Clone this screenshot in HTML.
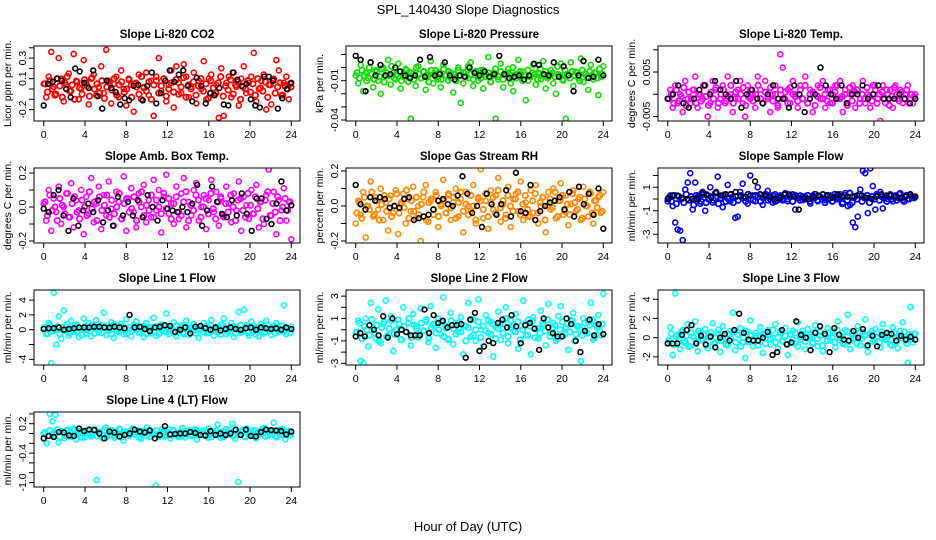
<!DOCTYPE html>
<html><head><meta charset="utf-8"><style>
body{margin:0;background:#fff}
svg{display:block;font-family:"Liberation Sans",sans-serif}
</style></head><body>
<svg id="chart" width="936" height="540" viewBox="0 0 936 540">
<rect width="936" height="540" fill="#fff"/>
<text x="468" y="14" text-anchor="middle" font-size="13">SPL_140430  Slope Diagnostics</text>
<text x="468" y="531" text-anchor="middle" font-size="13">Hour of Day (UTC)</text>
</svg>
<script>
const hourTicks=[0,4,8,12,16,20,24];
const co2Vals=[0.05,-0.08,0.12,0.36,0.02,-0.05,0.30,0.1,-0.12,0.04,0.15,-0.02,0.34,0.08,-0.1,0.0,0.28,0.06,-0.15,0.1,0.14,-0.06,0.02,0.22,-0.04,0.38,0.08,-0.14,0.05,0.12,-0.08,0.18,0.0,-0.16,0.1,0.04,-0.22,0.06,0.14,-0.1,0.02,0.16,-0.06,0.08,-0.26,0.12,0.3,-0.02,0.1,-0.12,0.04,0.18,-0.18,0.22,0.06,-0.04,0.24,0.12,-0.08,0.02,0.16,-0.14,0.08,0.0,0.27,-0.1,0.1,0.14,-0.06,0.04,-0.28,0.2,-0.26,0.06,0.12,-0.08,0.16,0.02,-0.16,0.1,0.22,-0.04,0.06,0.12,0.35,-0.12,0.0,0.08,0.14,-0.2,0.04,-0.15,0.1,0.28,0.18,-0.06,0.06,0.12,-0.1,0.02];
const co2Core=[0.05,-0.03,0.08,0.0,-0.06,0.1,0.03,-0.08,0.06,0.12,-0.02,0.04,-0.1,0.07,0.01,-0.05,0.09,0.03,-0.07,0.11,0.0,0.05,-0.04,0.08,-0.09,0.02,0.06,-0.01,0.1,-0.06,0.04,0.07,-0.03,0.0,0.09,-0.08,0.05,0.02,-0.05,0.12,0.01,-0.02,0.07,-0.1,0.04,0.08,-0.04,0.03,0.1,-0.07,0.0,0.06,-0.03,0.09,-0.05,0.02,0.11,-0.08,0.04,0.0,0.07,-0.06,0.03,0.1,-0.02,0.05,-0.09,0.08,0.01,-0.04,0.06,0.12,-0.07,0.03,-0.01,0.09,-0.05,0.04,0.07,-0.1,0.02,0.0,0.08,-0.03,0.05,-0.06,0.1,0.01,-0.02,0.07,-0.08,0.04,0.09,-0.04,0.02,0.06,-0.06,0.03,0.0,0.05];
const co2Black=[-0.16,0.05,0.07,0.1,0.08,0.0,-0.08,0.2,0.17,0.06,0.01,0.18,-0.07,-0.19,0.08,0.01,-0.03,-0.15,-0.09,-0.11,0.03,0.04,-0.11,0.03,0.16,-0.14,-0.04,0.08,0.18,0.07,0.14,0.18,0.03,-0.12,0.11,0.03,-0.14,-0.04,-0.06,0.01,-0.15,-0.16,0.16,0.09,0.03,0.05,-0.1,-0.16,-0.18,0.12,0.12,0.08,-0.19,-0.09,0.0,0.06];
const presVals=[-0.006,-0.012,0.002,-0.018,-0.004,-0.008,0.004,-0.015,-0.002,-0.01,-0.02,0.0,-0.006,0.006,-0.013,-0.004,-0.009,0.003,-0.016,-0.007,-0.001,-0.011,-0.039,-0.005,-0.014,0.001,-0.008,-0.003,-0.017,-0.006,0.005,-0.012,-0.002,-0.009,-0.015,0.002,-0.006,-0.01,-0.004,-0.019,-0.007,0.0,-0.027,-0.012,-0.003,-0.008,0.004,-0.014,-0.005,-0.01,-0.002,-0.016,-0.007,0.008,-0.011,-0.004,-0.039,-0.009,0.003,-0.015,-0.006,-0.001,-0.012,-0.018,-0.005,0.006,-0.008,-0.003,-0.025,-0.01,-0.006,0.002,-0.013,-0.004,-0.009,0.005,-0.016,-0.007,-0.002,-0.012,-0.02,-0.005,0.003,-0.01,-0.039,-0.006,0.004,-0.014,-0.003,-0.008,0.007,-0.011,-0.005,-0.017,0.002,-0.009,-0.004,-0.021,-0.007,0.001];
const presCore=[-0.004,-0.008,-0.002,-0.006,-0.01,0.0,-0.005,-0.009,-0.003,-0.007,-0.001,-0.011,-0.004,-0.006,0.001,-0.008,-0.005,-0.003,-0.01,-0.006,-0.002,-0.007,-0.004,-0.009,0.0,-0.005,-0.008,-0.003,-0.006,-0.011,-0.002,-0.005,-0.007,-0.004,-0.009,-0.001,-0.006,-0.003,-0.008,-0.005,-0.01,-0.002,-0.006,-0.004,-0.007,0.001,-0.005,-0.009,-0.003,-0.006,-0.008,-0.002,-0.005,-0.004,-0.011,-0.006,-0.001,-0.007,-0.003,-0.009,-0.005,-0.004,-0.006,0.0,-0.008,-0.005,-0.003,-0.01,-0.006,-0.002,-0.007,-0.004,-0.005,-0.009,-0.001,-0.006,-0.003,-0.008,-0.005,-0.004,-0.007,0.001,-0.006,-0.009,-0.002,-0.005,-0.008,-0.003,-0.006,-0.004,-0.01,-0.002,-0.005,-0.007,-0.003,-0.006,-0.004,-0.008,-0.001,-0.005];
const presBlack=[0.009,0.006,-0.018,0.004,-0.006,0.002,-0.006,-0.005,0.0,-0.003,-0.006,-0.008,-0.006,0.006,-0.007,0.008,-0.006,-0.005,0.004,-0.006,-0.009,-0.006,-0.007,0.0,-0.004,-0.006,-0.003,-0.007,-0.005,0.009,-0.005,-0.008,-0.007,-0.006,-0.009,-0.006,0.003,0.002,-0.005,-0.006,0.004,-0.007,0.001,-0.006,-0.018,-0.006,0.005,-0.008,-0.007,0.006,-0.006];
const tempVals=[-0.001,0.001,-0.003,0.002,-0.002,0.0,-0.004,0.003,-0.001,-0.002,0.001,0.004,-0.003,0.0,-0.001,0.002,-0.005,-0.002,0.003,0.001,-0.003,-0.001,0.002,-0.002,0.004,0.0,-0.004,-0.001,0.001,0.003,-0.002,-0.005,0.002,-0.001,0.0,-0.003,0.004,0.001,-0.002,0.003,-0.001,-0.004,0.0,0.002,-0.003,0.009,0.006,-0.001,0.001,-0.002,0.003,0.0,-0.003,0.002,-0.001,0.004,-0.002,0.001,-0.004,0.0,0.002,-0.001,0.003,-0.003,0.001,-0.002,0.0,0.002,-0.001,0.003,-0.004,0.001,-0.002,0.0,0.002,-0.003,0.001,-0.001,0.003,-0.002,0.0,-0.003,0.002,0.001,-0.001,-0.006,0.002,-0.002,0.0,0.001,-0.003,0.002,-0.001,0.001,-0.002,0.0,0.002,-0.001,-0.002,0.0];
const tempCore=[-0.001,0.0,-0.002,0.001,-0.0015,-0.0005,0.0015,-0.0025,0.0005,-0.001,0.001,-0.002,0.0,-0.0015,0.002,-0.0005,-0.0025,0.0005,-0.001,0.0015,-0.002,0.0,0.001,-0.0015,-0.0005,0.002,-0.002,0.0005,-0.001,0.0,0.0015,-0.0025,-0.0005,0.001,-0.0015,0.0,0.002,-0.001,-0.002,0.0005,-0.0005,0.0015,-0.0015,0.0,-0.0025,0.001,-0.001,0.0005,-0.002,0.0015,0.0,-0.0005,-0.0015,0.001,-0.001,0.002,-0.002,0.0,0.0005,-0.0025,-0.0005,0.0015,-0.001,0.0,-0.0015,0.001,-0.002,0.0005,0.002,-0.001,-0.0005,0.0,-0.0025,0.0015,-0.0015,0.0005,0.001,-0.002,0.0,-0.001,0.0015,-0.0005,-0.0015,0.002,-0.002,0.0,0.0005,-0.001,0.001,-0.0025,-0.0005,0.0015,0.0,-0.0015,0.0005,-0.001,0.001,-0.002,0.0,-0.0005];
const tempBlack=[-0.001,0.0,0.002,-0.002,-0.003,-0.001,0.001,0.002,0.0,0.003,0.001,0.0,-0.001,0.003,-0.003,0.0,0.001,-0.001,-0.002,0.0,0.002,-0.001,-0.001,-0.003,0.002,0.0,-0.004,-0.001,0.0,0.006,0.002,0.0,-0.001,0.002,-0.002,0.0,0.0,0.002,-0.001,0.0,0.002,-0.001,-0.001,-0.001,0.0,-0.001,-0.002,-0.001];
const boxVals=[0.02,-0.08,0.1,-0.14,0.05,-0.03,0.12,-0.1,0.0,0.08,-0.06,0.14,-0.12,0.04,-0.02,0.1,-0.16,0.06,-0.04,0.17,-0.09,0.02,0.12,-0.13,0.07,-0.05,0.15,-0.01,-0.11,0.09,0.03,-0.07,0.18,-0.14,0.05,0.11,-0.03,-0.12,0.08,0.0,0.13,-0.09,0.04,-0.06,0.16,-0.02,0.1,-0.15,0.06,0.19,-0.04,0.02,-0.1,0.12,-0.07,0.08,0.17,-0.12,0.03,-0.05,0.1,0.14,-0.08,0.0,0.07,-0.13,0.04,0.16,-0.03,0.09,-0.11,0.05,-0.06,0.12,0.02,-0.09,0.08,-0.02,0.15,-0.14,0.06,0.01,-0.07,0.1,-0.04,0.13,-0.12,0.03,-0.1,0.07,0.22,-0.05,0.09,-0.16,0.04,-0.02,0.11,-0.08,0.03,-0.19];
const boxCore=[0.03,-0.05,0.07,-0.02,0.0,-0.08,0.05,0.01,-0.04,0.08,-0.06,0.02,0.06,-0.03,-0.07,0.04,0.0,-0.05,0.09,-0.01,0.03,-0.08,0.06,-0.02,0.01,0.07,-0.06,0.04,-0.04,0.0,0.08,-0.07,0.02,0.05,-0.03,-0.01,0.06,-0.08,0.03,0.09,-0.05,0.01,-0.02,0.07,-0.06,0.04,0.0,-0.04,0.08,-0.01,0.05,-0.07,0.02,0.06,-0.03,-0.05,0.03,0.09,-0.08,0.01,-0.02,0.07,0.04,-0.06,0.0,0.05,-0.04,0.08,-0.01,-0.07,0.03,0.06,-0.05,0.02,-0.03,0.07,0.0,-0.08,0.04,0.05,-0.02,-0.06,0.08,0.01,-0.04,0.06,-0.01,0.03,-0.07,0.04,0.09,-0.05,0.02,-0.03,0.06,-0.08,0.0,0.05,-0.02,0.03];
const boxBlack=[-0.01,-0.03,0.07,0.1,-0.05,-0.14,0.05,-0.11,-0.02,0.02,-0.03,0.04,-0.09,-0.02,-0.11,0.06,-0.05,0.03,-0.05,0.04,-0.06,0.07,0.0,-0.08,0.04,-0.01,-0.02,-0.03,0.0,-0.03,0.02,0.13,-0.11,-0.02,0.12,0.03,-0.04,-0.06,0.04,-0.05,0.08,-0.04,-0.14,0.05,0.05,-0.07,-0.1,0.02,0.15,-0.02,0.01];
const rhVals=[-0.1,0.03,-0.05,0.08,-0.18,0.0,0.14,-0.06,0.05,-0.02,0.1,-0.08,0.02,-0.14,0.06,-0.04,0.09,-0.16,0.01,0.07,-0.1,0.04,-0.03,0.11,-0.07,0.0,-0.2,0.05,0.12,-0.09,0.03,-0.05,0.08,-0.12,0.01,0.15,-0.04,0.06,-0.08,0.02,0.1,-0.06,0.04,-0.15,0.08,0.0,-0.03,0.12,-0.1,0.05,0.21,-0.07,0.03,-0.13,0.09,-0.02,0.06,0.16,-0.09,0.01,-0.05,0.11,-0.12,0.04,0.07,-0.03,0.14,-0.08,0.02,-0.06,0.09,-0.04,0.12,-0.1,0.0,0.05,-0.15,0.08,-0.02,0.1,-0.07,0.03,0.13,-0.05,0.06,-0.11,0.01,0.09,-0.03,0.04,-0.08,0.11,0.0,-0.06,0.07,-0.1,0.03,0.05,-0.04,0.08];
const rhCore=[-0.04,0.02,-0.07,0.05,0.0,-0.02,0.08,-0.05,0.03,-0.08,0.01,0.06,-0.03,0.04,-0.06,0.0,0.07,-0.04,0.02,-0.01,0.09,-0.07,0.03,-0.03,0.05,-0.05,0.01,0.08,-0.08,0.02,0.04,-0.02,0.06,-0.06,0.0,0.03,-0.04,0.07,-0.01,0.05,-0.07,0.02,0.08,-0.03,0.01,-0.05,0.06,0.0,-0.08,0.04,0.03,-0.02,0.07,-0.06,0.02,0.05,-0.04,0.09,-0.01,0.03,-0.07,0.06,0.0,-0.03,0.04,0.08,-0.05,0.01,0.06,-0.02,-0.06,0.03,0.07,-0.04,0.02,0.05,-0.08,0.0,0.04,-0.01,0.08,-0.06,0.03,0.06,-0.03,0.01,-0.05,0.07,0.02,-0.02,0.05,-0.07,0.04,0.0,0.08,-0.04,0.03,-0.01,0.06,-0.03];
const rhBlack=[0.12,0.01,-0.02,0.05,0.03,0.05,0.04,-0.01,0.0,-0.01,0.04,0.05,-0.08,-0.07,-0.06,-0.05,-0.02,0.03,0.04,0.01,0.0,0.06,0.17,0.07,-0.04,0.0,-0.12,0.07,0.01,-0.05,0.01,0.09,-0.06,0.19,-0.03,-0.04,0.12,-0.08,-0.03,0.0,0.02,0.03,0.05,-0.02,0.08,-0.06,0.11,0.01,0.07,-0.05,0.1,-0.13];
const sampleVals=[-0.2,0.3,-0.6,-2.0,-2.6,-2.7,-3.5,0.8,1.4,2.2,-0.9,1.4,0.2,-0.4,0.6,-1.0,0.3,1.0,-0.3,0.5,1.9,0.0,-0.7,0.4,1.2,-0.2,0.2,-1.6,-1.5,0.6,1.3,0.1,-0.4,2.0,0.3,-0.2,1.0,0.4,-0.5,0.2,0.7,0.0,-0.3,0.4,-0.1,0.3,0.0,0.5,-0.2,0.2,0.4,-0.9,0.1,0.3,-0.1,0.2,0.0,-0.4,0.3,0.1,-0.2,0.2,0.4,-0.1,0.0,0.3,-0.2,0.2,0.1,0.4,-0.3,0.5,-0.6,-0.5,-2.0,-2.4,-1.5,0.8,2.4,2.2,-1.2,2.6,1.1,-0.9,0.3,0.6,-0.8,0.2,0.0,0.4,-0.2,0.3,0.1,0.5,-0.1,0.2,0.0,0.4,0.1,0.2];
const sampleCore=[0.1,-0.2,0.3,-0.4,0.2,0.0,-0.3,0.4,-0.1,0.2,-0.5,0.3,0.1,-0.2,0.4,-0.3,0.0,0.2,-0.1,0.5,-0.4,0.1,0.3,-0.2,0.0,0.4,-0.3,0.2,-0.1,0.3,0.1,-0.2,0.4,0.0,-0.1,0.3,0.2,-0.2,0.1,0.4,-0.1,0.0,0.3,-0.2,0.2,0.1,-0.1,0.4,0.0,0.2,-0.2,0.3,0.1,-0.1,0.2,0.0,0.3,-0.2,0.1,0.4,-0.1,0.2,0.0,-0.3,0.3,0.1,-0.2,0.4,0.0,0.2,-0.4,0.3,-0.1,0.5,-0.3,0.2,0.0,0.4,-0.2,0.1,0.3,-0.3,0.2,0.0,0.4,-0.1,0.2,0.1,-0.2,0.3,0.0,0.2,-0.1,0.4,0.1,-0.2,0.3,0.0,0.2,0.1];
const sampleBlack=[0.0,0.3,0.3,0.1,0.0,0.0,0.0,0.5,0.4,0.1,0.6,0.3,0.4,0.4,0.6,0.2,0.2,0.3,1.5,0.4,0.3,0.2,0.0,0.1,0.4,0.4,0.2,-0.9,0.1,0.0,0.2,0.3,0.4,0.3,0.1,0.4,0.2,0.2,0.2,0.3,0.3,0.1,0.0,0.2,0.4,0.3,0.3,0.2,0.1,0.2,0.4,0.2];
const line1Vals=[0.3,-0.6,0.9,-4.5,5.0,-2.0,1.8,-1.2,2.6,0.4,-0.8,1.2,-0.3,0.7,-1.0,0.2,1.5,-0.5,0.9,-0.9,0.3,1.3,-0.4,0.6,2.3,-0.7,0.1,1.0,-1.1,0.5,-0.2,0.8,-0.6,1.4,0.0,-0.9,0.6,1.1,-0.3,0.4,-1.0,0.9,0.2,-0.5,1.6,-0.8,0.3,0.7,-0.2,2.2,-0.6,0.5,1.0,-0.9,0.1,0.6,-0.4,1.2,-0.7,0.3,0.8,-0.1,-1.1,0.5,0.9,-0.5,0.2,1.3,-0.8,0.4,-0.3,0.7,1.5,-0.6,0.0,0.9,-1.0,0.4,2.4,-0.4,2.7,0.6,-0.8,1.1,-0.2,0.3,-0.9,0.8,-0.5,1.2,0.1,-0.7,0.5,0.9,-0.3,0.6,3.3,-0.6,0.2,0.4];
const line1Core=[0.2,-0.5,0.6,-0.2,0.0,0.4,-0.6,0.3,-0.1,0.7,-0.4,0.1,0.5,-0.3,0.2,-0.7,0.4,0.0,-0.2,0.6,-0.5,0.3,0.1,-0.4,0.5,-0.1,0.2,-0.6,0.7,0.0,-0.3,0.4,0.1,-0.5,0.3,-0.2,0.6,0.0,-0.4,0.2,0.5,-0.6,0.1,0.3,-0.2,0.4,-0.5,0.0,0.6,-0.3,0.2,0.1,-0.4,0.5,-0.1,0.3,-0.6,0.4,0.0,-0.2,0.7,-0.5,0.2,0.1,-0.3,0.4,-0.4,0.6,0.0,-0.1,0.3,-0.6,0.5,0.2,-0.3,0.1,0.4,-0.5,0.0,0.6,-0.2,0.3,-0.4,0.2,0.5,-0.6,0.1,0.0,0.4,-0.3,0.6,-0.1,0.2,-0.5,0.3,0.0,0.5,-0.2,0.1,-0.4];
const line1Black=[0.1,0.2,0.2,0.3,0.0,0.1,0.2,0.3,0.3,0.3,0.4,0.4,0.3,0.3,0.4,0.3,0.2,2.0,0.3,0.4,0.1,-0.2,0.3,0.4,0.6,0.5,-0.3,0.0,0.3,-0.5,0.4,0.5,0.2,0.0,0.3,-0.1,0.1,0.3,0.1,0.0,0.2,0.3,0.0,0.3,0.2,0.1,0.2,0.0,0.3,0.1];
const line2Vals=[-0.3,0.8,-2.8,-3.0,1.0,-1.5,2.4,0.2,-0.8,1.8,-1.2,0.5,2.6,-0.5,1.2,-1.9,0.0,0.9,-0.9,2.0,-0.2,0.6,-1.4,1.4,0.3,-0.7,1.9,-0.1,0.7,-1.1,2.1,0.4,-1.6,1.0,-0.4,2.9,0.1,-0.8,1.5,-1.3,0.6,-0.2,1.1,-2.2,0.3,2.4,-0.6,0.9,-1.0,2.7,0.0,-1.5,1.3,-0.3,0.7,-2.4,0.2,1.6,-0.9,0.5,2.0,-1.2,0.8,-0.1,1.4,-1.7,0.3,2.6,-0.5,0.9,-2.2,1.1,0.0,-0.8,1.7,0.4,-1.4,2.3,-0.3,0.6,-1.0,1.2,2.1,-0.6,0.2,-1.8,0.9,1.5,-0.4,0.3,-2.8,1.0,-0.2,0.7,2.4,-0.9,0.4,1.3,-0.5,3.2];
const line2Core=[-0.2,0.6,-0.8,0.3,0.0,-0.5,0.9,-0.3,0.4,-1.0,0.2,0.7,-0.6,0.1,0.8,-0.4,0.0,0.5,-0.9,0.3,-0.2,1.0,-0.7,0.4,0.1,-0.5,0.6,-0.1,0.9,-0.8,0.2,0.5,-0.3,0.0,0.7,-0.6,0.3,-0.9,0.8,0.1,-0.4,0.6,-0.2,0.4,-1.0,0.2,0.9,-0.5,0.0,0.7,-0.7,0.3,-0.1,0.8,-0.4,0.5,-0.8,0.1,0.6,-0.3,1.0,-0.6,0.2,0.4,-0.2,0.7,-0.9,0.0,0.5,-0.5,0.3,0.8,-0.7,0.1,-0.3,0.6,-0.1,0.9,-0.6,0.2,0.4,-0.8,0.0,0.7,-0.4,0.5,-0.2,0.8,-1.0,0.3,0.1,-0.5,0.6,-0.3,0.4,0.9,-0.7,0.2,-0.1,0.5];
const line2Black=[-0.6,-0.3,-0.6,0.4,0.0,-0.5,1.2,-0.7,1.0,-0.4,0.0,-0.2,-0.5,-0.5,-0.5,1.8,-0.3,1.3,0.6,0.8,0.2,0.4,0.4,0.5,-2.5,0.9,1.5,-1.9,-1.5,-1.0,-1.2,0.6,0.9,0.2,1.3,0.3,-1.2,0.4,0.6,0.1,-1.8,1.0,0.2,-0.3,-0.6,-0.6,1.0,0.5,-1.0,-2.0,-0.1,0.9,-0.5,0.5,-0.4];
const line3Vals=[-0.5,1.1,-1.8,4.6,0.3,-1.2,0.8,-0.4,1.4,-0.9,0.1,1.7,-1.4,0.5,-0.2,0.9,-1.1,0.2,1.5,-0.6,0.4,-1.5,1.2,0.0,-0.8,0.7,2.6,-1.3,0.3,1.0,-0.5,-2.1,0.6,1.8,-0.9,0.2,-0.3,1.1,-1.6,0.4,0.8,-0.7,0.0,1.4,-1.1,0.5,-0.4,1.0,-1.8,0.3,0.7,-0.6,1.6,-0.2,0.4,-1.2,0.9,0.1,-0.5,1.3,-0.9,0.6,-1.4,0.2,1.0,-0.3,0.5,-1.0,1.7,0.0,-0.6,0.8,2.4,-1.2,0.4,-0.1,1.2,-0.8,0.6,1.9,-1.5,0.3,-0.4,0.9,0.1,-1.0,1.4,-0.2,0.5,-0.7,1.1,0.0,-1.1,0.7,1.6,-0.3,-2.6,3.2,-0.5,0.4];
const line3Core=[-0.3,0.4,-0.7,0.1,-0.1,0.6,-0.5,0.2,-0.9,0.5,0.0,-0.4,0.7,-0.2,0.3,-0.8,0.1,0.5,-0.6,0.0,0.8,-0.3,0.2,-0.7,0.4,-0.1,0.6,-0.5,0.3,-0.9,0.0,0.7,-0.4,0.2,-0.2,0.5,-0.8,0.1,0.4,-0.6,0.3,-0.1,0.8,-0.5,0.0,0.6,-0.3,0.2,-0.7,0.4,-0.2,0.5,-0.9,0.1,0.7,-0.4,0.0,0.3,-0.6,0.6,-0.1,0.2,-0.8,0.4,-0.3,0.5,0.0,-0.5,0.8,-0.2,0.1,-0.7,0.6,-0.4,0.3,0.0,-0.6,0.5,-0.1,0.2,-0.9,0.4,0.7,-0.3,0.0,-0.5,0.6,0.1,-0.2,0.3,-0.8,0.5,-0.4,0.2,0.0,0.6,-0.6,0.3,-0.1,0.4];
const line3Black=[-0.6,-0.6,-0.6,0.3,0.8,1.3,-0.6,0.2,-0.7,0.1,-1.0,0.0,0.4,-0.3,0.8,2.5,0.5,-0.2,-0.3,-0.3,0.0,0.6,-1.8,-1.5,0.8,-0.7,-0.5,1.7,0.3,0.0,-1.3,0.5,1.2,0.4,-1.5,1.0,0.3,-0.2,-0.3,0.7,0.0,0.9,-0.8,0.2,-0.9,0.3,0.5,0.4,-0.3,0.2,-0.2,0.1,-0.2];
const line4Vals=[0.0,-0.2,0.4,0.25,0.38,-0.18,0.05,-0.1,0.08,-0.05,0.1,-0.12,0.02,0.06,-0.08,0.0,-0.06,0.09,-0.95,0.04,-0.1,0.12,-0.03,0.07,-0.09,0.0,0.08,-0.14,0.03,-0.05,0.1,-0.02,0.06,-0.11,0.02,0.12,-0.07,0.04,-1.06,-0.01,0.09,-0.06,0.03,-0.1,0.07,0.0,-0.04,0.11,-0.08,0.05,-0.02,0.08,-0.12,0.01,0.06,-0.05,0.1,-0.07,0.02,0.18,-0.09,0.04,-0.03,0.08,0.2,-0.11,-0.99,0.05,-0.06,0.1,-0.02,0.07,-0.1,0.03,0.0,0.12,-0.05,0.06,0.22,-0.08,0.02,0.09,-0.12,0.04,0.01];
const line4Core=[0.02,-0.05,0.06,-0.02,0.0,0.08,-0.07,0.03,-0.04,0.05,0.01,-0.06,0.07,-0.01,0.04,-0.08,0.02,0.06,-0.03,0.0,0.08,-0.05,0.03,-0.02,0.07,-0.06,0.01,0.05,-0.04,0.02,0.09,-0.07,0.0,0.04,-0.03,0.06,-0.01,0.03,-0.08,0.05,0.02,-0.05,0.07,0.0,-0.02,0.06,-0.06,0.03,0.01,-0.04,0.08,-0.03,0.05,0.0,-0.07,0.04,0.02,-0.01,0.06,-0.05,0.03,0.07,-0.04,0.01,-0.02,0.05,-0.08,0.04,0.0,0.06,-0.03,0.02,-0.06,0.08,-0.01,0.03,-0.05,0.05,0.01,-0.02,0.07,-0.07,0.04,0.0,-0.04,0.06,-0.03,0.02,0.09,-0.06,0.03,-0.01,0.05,-0.05,0.02,0.07,-0.02,0.0,0.04,-0.03];
const line4Black=[-0.1,-0.05,-0.07,0.03,0.02,-0.04,-0.05,0.1,0.05,0.08,0.07,0.0,-0.1,0.04,0.02,-0.06,-0.03,0.0,0.08,0.04,0.02,0.06,-0.1,-0.03,0.15,-0.02,-0.01,0.0,0.0,0.03,0.01,-0.03,-0.04,0.05,-0.03,0.0,-0.03,0.0,0.08,-0.03,0.08,-0.05,-0.06,0.03,0.08,0.07,0.06,0.05,-0.02,0.04];

const co2Ticks=[-0.2,-0.1,0,0.1,0.2,0.3,0.4], co2Labels=["-0.2","","","0.1","","0.3",""];
const presTicks=[0.01,0,-0.01,-0.02,-0.03,-0.04], presLabels=["","","-0.01","","","-0.04"];
const tempTicks=[0.01,0.005,0,-0.005], tempLabels=["","0.005","","-0.005"];
const boxTicks=[0.2,0.1,0,-0.1,-0.2], boxLabels=["0.2","","0.0","","-0.2"];
const rhTicks=[0.2,0.1,0,-0.1,-0.2], rhLabels=["0.2","","0.0","","-0.2"];
const sampleTicks=[2,1,0,-1,-2,-3], sampleLabels=["","1","","-1","","-3"];
const line1Ticks=[4,2,0,-2,-4], line1Labels=["4","2","0","","-4"];
const line2Ticks=[3,2,1,0,-1,-2,-3], line2Labels=["3","","1","","-1","","-3"];
const line3Ticks=[4,2,0,-2], line3Labels=["4","2","0","-2"];
const line4Ticks=[0.4,0.2,0,-0.2,-0.4,-0.6,-0.8,-1.0], line4Labels=["","0.2","","","-0.4","","","-1.0"];

const NS="http://www.w3.org/2000/svg";
const svg=document.getElementById('chart');
function mk(tag,attrs,parent){const e=document.createElementNS(NS,tag);for(const k in attrs)e.setAttribute(k,attrs[k]);(parent||svg).appendChild(e);return e;}

const panels=[
 {name:'co2',title:'Slope Li-820 CO2',ylab:'Licor ppm per min.',col:0,row:0,vals:co2Vals,core:co2Core,blk:co2Black,color:'#ff0000',zero:89,ppu:103,ticks:co2Ticks,labels:co2Labels},
 {name:'pressure',title:'Slope Li-820 Pressure',ylab:'kPa per min.',col:1,row:0,vals:presVals,core:presCore,blk:presBlack,color:'#11dd00',zero:67.6,ppu:1310,ticks:presTicks,labels:presLabels},
 {name:'li820-temp',title:'Slope Li-820 Temp.',ylab:'degrees C per min.',col:2,row:0,vals:tempVals,core:tempCore,blk:tempBlack,color:'#ff00ff',zero:94.3,ppu:4450,ticks:tempTicks,labels:tempLabels},
 {name:'amb-box-temp',title:'Slope Amb. Box Temp.',ylab:'degrees C per min.',col:0,row:1,vals:boxVals,core:boxCore,blk:boxBlack,color:'#ff00ff',zero:207,ppu:170,ticks:boxTicks,labels:boxLabels},
 {name:'gas-stream-rh',title:'Slope Gas Stream RH',ylab:'percent per min.',col:1,row:1,vals:rhVals,core:rhCore,blk:rhBlack,color:'#ff8800',zero:206,ppu:175,ticks:rhTicks,labels:rhLabels},
 {name:'sample-flow',title:'Slope Sample Flow',ylab:'ml/min per min.',col:2,row:1,vals:sampleVals,core:sampleCore,blk:sampleBlack,color:'#0000ff',zero:199,ppu:11.75,ticks:sampleTicks,labels:sampleLabels},
 {name:'line1-flow',title:'Slope Line 1 Flow',ylab:'ml/min per min.',col:0,row:2,vals:line1Vals,core:line1Core,blk:line1Black,color:'#00ffff',zero:329.7,ppu:7.4,ticks:line1Ticks,labels:line1Labels},
 {name:'line2-flow',title:'Slope Line 2 Flow',ylab:'ml/min per min.',col:1,row:2,vals:line2Vals,core:line2Core,blk:line2Black,color:'#00ffff',zero:329.7,ppu:11.2,ticks:line2Ticks,labels:line2Labels},
 {name:'line3-flow',title:'Slope Line 3 Flow',ylab:'ml/min per min.',col:2,row:2,vals:line3Vals,core:line3Core,blk:line3Black,color:'#00ffff',zero:337.7,ppu:9.6,ticks:line3Ticks,labels:line3Labels},
 {name:'line4-flow',title:'Slope Line 4 (LT) Flow',ylab:'ml/min per min.',col:0,row:3,vals:line4Vals,core:line4Core,blk:line4Black,color:'#00ffff',zero:433.5,ppu:49,ticks:line4Ticks,labels:line4Labels}
];
const colLeft=[34,346,658], rowTop=[46,168,290,412], W=266, H=75;

panels.forEach(p=>{
  const L=colLeft[p.col], T=rowTop[p.row], B=T+H;
  const g=mk('g',{});
  
  
  const xs=h=>L+9.7+h*(247.6/24);
  const ys=v=>p.zero-v*p.ppu;
  const clip=mk('clipPath',{id:'c-'+p.name},g);
  mk('rect',{x:L,y:T,width:W,height:H},clip);
  const t=mk('text',{x:L+W/2,y:T-8,'text-anchor':'middle','font-size':11.5,'font-weight':'bold'},g);
  t.textContent=p.title;
  
  
  const yl=mk('text',{x:0,y:0,'text-anchor':'middle','font-size':10.5,transform:`translate(${L-23},${T+H/2}) rotate(-90)`},g);
  yl.textContent=p.ylab;
  
  
  hourTicks.forEach(h=>{
    mk('line',{x1:xs(h),x2:xs(h),y1:B,y2:B+5,stroke:'#000','stroke-width':1},g);
    const tl=mk('text',{x:xs(h),y:B+17,'text-anchor':'middle','font-size':10.5},g);
    tl.textContent=h;
    
    
  });
  p.ticks.forEach((v,i)=>{
    const y=ys(v);
    if(y<T-1||y>B+1) return;
    mk('line',{x1:L-5,x2:L,y1:y,y2:y,stroke:'#000','stroke-width':1},g);
    if(p.labels[i]){
      const tl=mk('text',{x:0,y:0,'text-anchor':'middle','font-size':10.5,transform:`translate(${L-8},${y}) rotate(-90)`},g);
      tl.textContent=p.labels[i];
      
      
    }
  });
  const pts=mk('g',{'clip-path':`url(#c-${p.name})`},g);
  
  
  const nc=p.core.length;
  p.core.forEach((v,i)=>{
    const c=mk('circle',{cx:xs(0.12+i*23.76/(nc-1)),cy:ys(v),r:2.7,fill:'none',stroke:p.color,'stroke-width':1.8},pts);
    
    
  });
  const n=p.vals.length;
  p.vals.forEach((v,i)=>{
    const c=mk('circle',{cx:xs(i*24/(n-1)),cy:ys(v),r:2.5,fill:'none',stroke:p.color,'stroke-width':1.6},pts);
    
    
  });
  const m=p.blk.length;
  p.blk.forEach((v,i)=>{
    const c=mk('circle',{cx:xs(i*24/(m-1)),cy:ys(v),r:2.4,fill:'none',stroke:'#000','stroke-width':1.6},pts);
    
    
  });
  const box=mk('rect',{x:L,y:T,width:W,height:H,fill:'none',stroke:'#000','stroke-width':1},g);
  
  
});
</script>
</body></html>
